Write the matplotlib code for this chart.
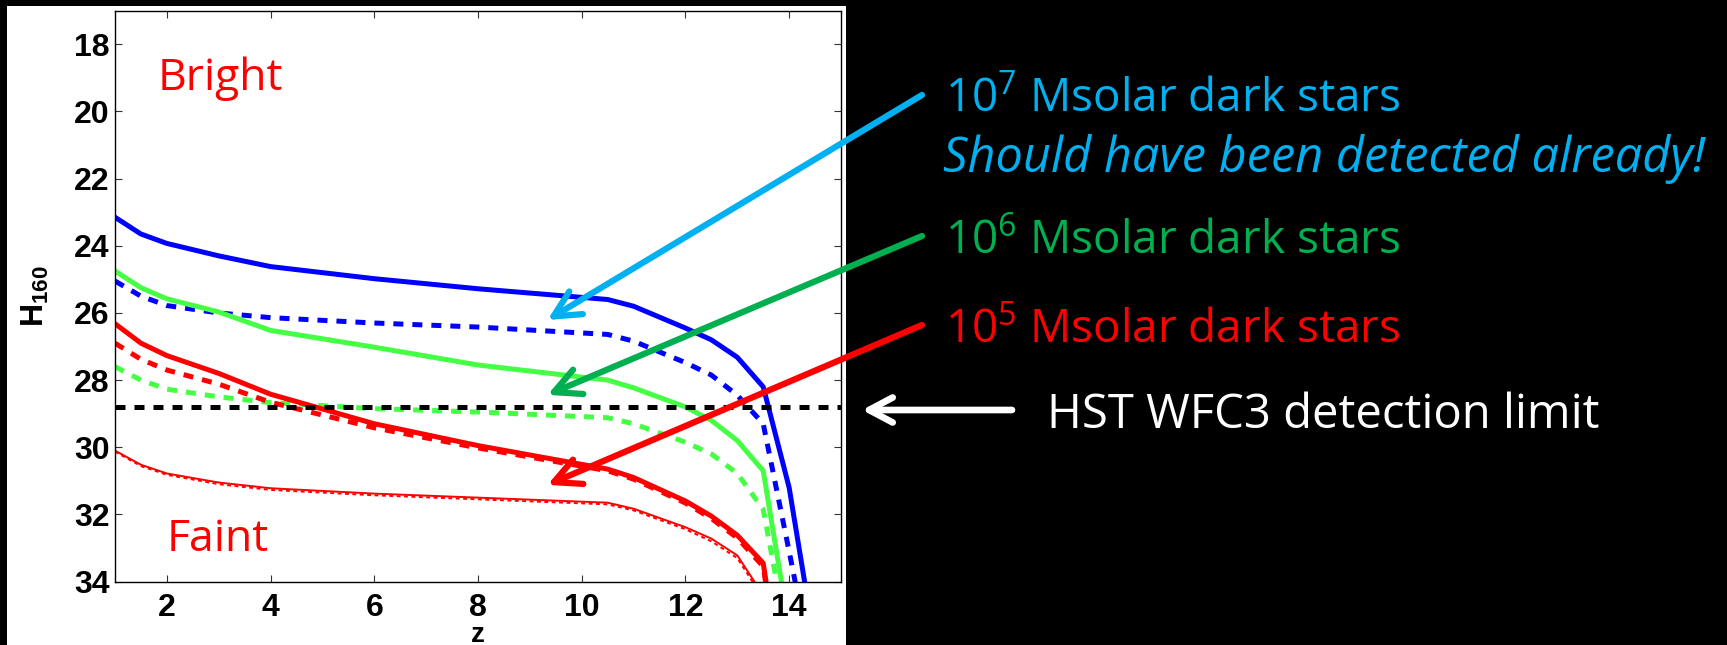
import matplotlib
matplotlib.use('Agg')
import matplotlib.pyplot as plt
from matplotlib import font_manager
from matplotlib.patches import Rectangle

# redshift grid and H160 apparent magnitudes of the dark star models
z = [1, 1.5, 2, 3, 4, 6, 8, 10.5, 11, 12, 12.5, 13, 13.5, 14, 14.5]
h_1e7 = [23.15, 23.65, 23.93, 24.3, 24.62, 24.98, 25.28, 25.6, 25.8, 26.45, 26.8, 27.32, 28.2, 31.2, 35.9]
h_1e7_dash = [25.05, 25.5, 25.78, 26.0, 26.14, 26.3, 26.42, 26.64, 26.84, 27.48, 27.85, 28.45, 29.3, 33.1, 37.0]
h_1e6 = [24.75, 25.25, 25.58, 25.97, 26.52, 27.02, 27.55, 28.0, 28.23, 28.8, 29.2, 29.8, 30.7, 35.4, 40.0]
h_1e6_dash = [27.6, 28.0, 28.27, 28.5, 28.67, 28.85, 28.95, 29.12, 29.3, 29.85, 30.2, 30.78, 31.85, 36.0, 40.0]
h_1e5 = [26.32, 26.9, 27.27, 27.8, 28.42, 29.3, 29.95, 30.65, 30.9, 31.6, 32.05, 32.62, 33.45, 38.5, 44.0]
h_1e5_dash = [26.9, 27.38, 27.7, 28.12, 28.66, 29.42, 30.02, 30.7, 30.95, 31.66, 32.12, 32.7, 33.55, 38.7, 44.0]
h_1e5_thin = [30.1, 30.52, 30.78, 31.05, 31.22, 31.38, 31.5, 31.65, 31.83, 32.38, 32.72, 33.22, 34.4, 37.0, 40.0]
h_1e5_thin_dash = [30.13, 30.56, 30.82, 31.1, 31.27, 31.43, 31.55, 31.7, 31.88, 32.44, 32.8, 33.3, 34.5, 37.2, 40.0]
detection_limit = 28.81

x_ticks = [2, 4, 6, 8, 10, 12, 14]
y_ticks = [18, 20, 22, 24, 26, 28, 30, 32, 34]

# arrow tips (data) for the three mass labels
tip_1e7 = (9.34, 26.21)
tip_1e6 = (9.34, 28.44)
tip_1e5 = (9.34, 31.12)

installed = {f.name for f in font_manager.fontManager.ttflist}
axis_font = 'Liberation Sans Narrow' if 'Liberation Sans Narrow' in installed else 'Liberation Sans'
axis_size = 26 if axis_font == 'Liberation Sans Narrow' else 23
label_font = 'Open Sans'

plt.rcParams['font.family'] = [axis_font, 'DejaVu Sans']
plt.rcParams['mathtext.fontset'] = 'custom'
plt.rcParams['mathtext.rm'] = label_font
plt.rcParams['mathtext.bf'] = axis_font + ':bold'

W, H = 1727, 645
fig = plt.figure(figsize=(W / 100, H / 100), dpi=100, facecolor='black')
fig.add_artist(Rectangle((7 / W, 0), 839 / W, 639 / H, transform=fig.transFigure,
                         facecolor='white', edgecolor='none', zorder=-5))

ax = fig.add_axes([115 / W, 1 - 581.6 / H, 726 / W, 570.9 / H])
ax.set_facecolor('white')

blue = '#0000ff'
green = '#45ff45'
red = '#ff0000'
dash = (0, (2.0, 1.8))

ax.plot(z, h_1e7, color=blue, lw=3.6)
ax.plot(z, h_1e7_dash, color=blue, lw=3.6, ls=dash)
ax.plot(z, h_1e6, color=green, lw=3.6)
ax.plot(z, h_1e6_dash, color=green, lw=3.6, ls=dash)
ax.plot(z, h_1e5_dash, color=red, lw=3.6, ls=dash)
ax.plot(z, h_1e5, color=red, lw=3.6)
ax.plot(z, h_1e5_thin_dash, color=red, lw=1.4, ls=dash)
ax.plot(z, h_1e5_thin, color=red, lw=1.4)
ax.axhline(detection_limit, color='black', lw=3.6, ls=dash)

ax.set_xlim(1, 15)
ax.set_ylim(34, 17)
ax.set_xticks(x_ticks)
ax.set_yticks(y_ticks)
ax.tick_params(which='both', direction='in', top=True, right=True, length=5,
               width=0.8, color='#333333', labelsize=axis_size)
ax.tick_params(axis='y', pad=4)
ax.tick_params(axis='x', pad=8)
for lab in ax.get_xticklabels() + ax.get_yticklabels():
    lab.set_fontweight('bold')
for sp in ax.spines.values():
    sp.set_linewidth(1.0)
    sp.set_color('black')

# the z label sits tight against the bottom edge of the panel
ax.set_xlabel('z', fontsize=axis_size - 3, fontweight='bold', va='baseline')
ax.xaxis.set_label_coords(0.5, -0.105)
ax.set_ylabel(r'$\mathbf{H}_{\mathbf{160}}$', fontsize=axis_size)
ax.yaxis.set_label_coords(-0.088, 0.5)

ax.text(1.83, 19.35, 'Bright', color=red, fontsize=32, family=label_font, va='baseline')
ax.text(2.0, 33.1, 'Faint', color=red, fontsize=32, family=label_font, va='baseline')

# mass labels on the black side of the slide
cyan = '#00b0f0'
dgreen = '#00b050'
fig.text(945 / W, 1 - 111.7 / H, r'10$^{\mathrm{7}}$ Msolar dark stars', color=cyan,
         fontsize=33, family=label_font, va='baseline')
fig.text(943 / W, 1 - 172 / H, 'Should have been detected already!', color=cyan,
         fontsize=35, family=label_font, style='italic', va='baseline')
fig.text(945 / W, 1 - 254 / H, r'10$^{\mathrm{6}}$ Msolar dark stars', color=dgreen,
         fontsize=33, family=label_font, va='baseline')
fig.text(945 / W, 1 - 343 / H, r'10$^{\mathrm{5}}$ Msolar dark stars', color=red,
         fontsize=33, family=label_font, va='baseline')
fig.text(1047 / W, 1 - 428 / H, 'HST WFC3 detection limit', color='white',
         fontsize=34, family=label_font, va='baseline')

head = '->,head_length=19,head_width=9.5'
for tip, tail_y, col in [(tip_1e7, 95, cyan), (tip_1e6, 236, dgreen), (tip_1e5, 325, red)]:
    ax.annotate('', xy=tip, xycoords='data',
                xytext=(922 / W, 1 - tail_y / H), textcoords='figure fraction',
                arrowprops=dict(arrowstyle=head, color=col, lw=4.5, mutation_scale=1,
                                shrinkA=0, shrinkB=0),
                annotation_clip=False)

fig.add_artist(matplotlib.patches.FancyArrowPatch(
    (1012 / W, 1 - 410 / H), (862 / W, 1 - 410 / H), transform=fig.transFigure,
    arrowstyle='->,head_length=17,head_width=9', color='white', lw=4.8,
    mutation_scale=1, shrinkA=0, shrinkB=0))

fig.savefig('out.png', dpi=100, facecolor='black')
